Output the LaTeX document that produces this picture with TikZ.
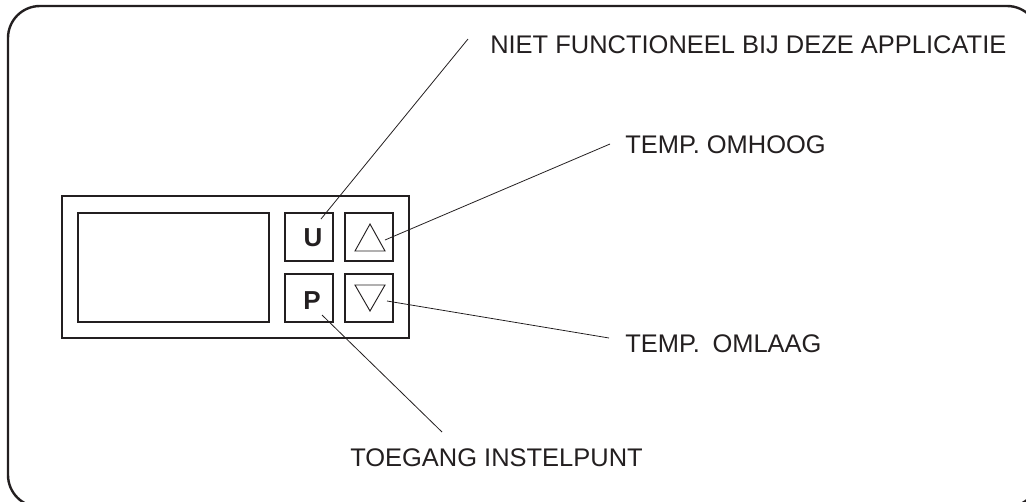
\documentclass[tikz,border=0pt]{standalone}
\usepackage{fontspec}
\setmainfont{Liberation Sans}
\definecolor{ink}{HTML}{231F20}
\begin{document}
\begin{tikzpicture}[x=0.75pt,y=-0.75pt,
  box/.style={draw=ink,line width=1.1pt,inner sep=0pt},
  btn/.style={box,minimum width=36pt,minimum height=36pt,font=\fontsize{19.5}{19.5}\selectfont\bfseries,text=ink},
  leader/.style={draw=ink,line width=0.6pt},
  lbl/.style={anchor=base west,inner sep=0pt,font=\fontsize{19.1}{20}\selectfont,text=ink}]
\useasboundingbox (0,0) rectangle (1026,501);
\clip (0,0) rectangle (1026,501);
% outer frame
\draw[ink,line width=1.8pt,rounded corners=24pt] (8,6) rectangle (1039,507);
% device
\node[box,minimum width=260.25pt,minimum height=106.5pt] (dev) at (235.5,267) {};
\node[box,minimum width=143.25pt,minimum height=81.75pt] (disp) at (173.5,267.5) {};
\node[btn] (U) at (309,237) {};
\node[btn] (P) at (309,298) {};
\node[font=\fontsize{19.5}{19.5}\selectfont\bfseries,text=ink,inner sep=0pt] (tU) at (313,238) {U};
\node[font=\fontsize{19.5}{19.5}\selectfont\bfseries,text=ink,inner sep=0pt] (tP) at (312,301) {P};
\node[btn] (up) at (369,237) {};
\node[btn] (down) at (369,298) {};
% triangles
\draw[ink,line width=0.7pt] (370,224) -- (355,251) -- (385,251) -- cycle;
\draw[ink,line width=0.7pt] (355,285) -- (385,285) -- (370,311) -- cycle;
% labels
\node[lbl] (lU) at (490,53) {NIET FUNCTIONEEL BIJ DEZE APPLICATIE};
\node[lbl] (lUp) at (625,153) {TEMP. OMHOOG};
\node[lbl] (lDown) at (625,352) {TEMP.\hspace{0.5em}OMLAAG};
\node[lbl] (lP) at (350,466) {TOEGANG INSTELPUNT};
% leader ends
\coordinate (eU) at (468,39);
\coordinate (eUp) at (610,144);
\coordinate (eDown) at (609,338);
\coordinate (eP) at (442,432);
\coordinate (sU) at (321,219);
\coordinate (sUp) at (385,240);
\coordinate (sDown) at (387,301);
\coordinate (sP) at (322,315);
\draw[leader] (sU) -- (eU);
\draw[leader] (sUp) -- (eUp);
\draw[leader] (sDown) -- (eDown);
\draw[leader] (sP) -- (eP);
\end{tikzpicture}
\end{document}
